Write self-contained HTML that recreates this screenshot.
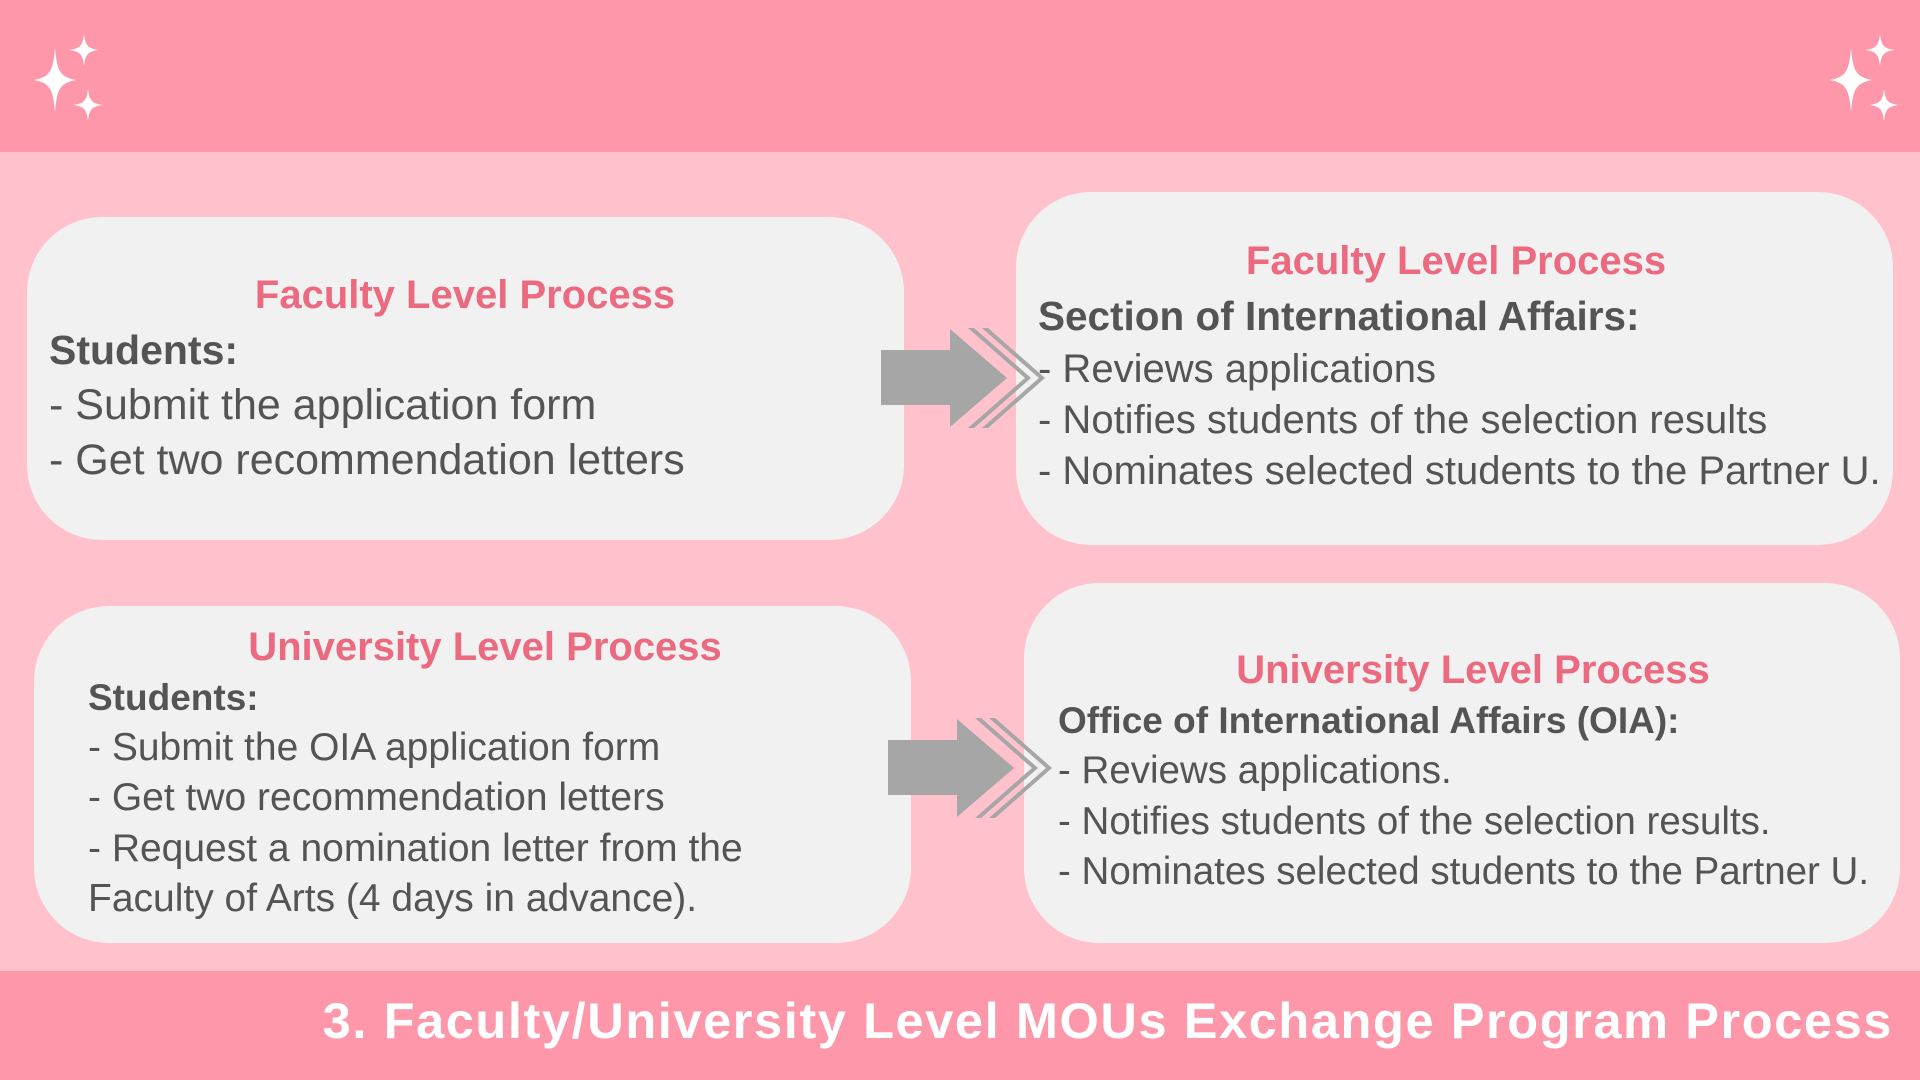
<!DOCTYPE html><html><head><style>
body{margin:0;width:1920px;height:1080px;background:#ffc1cc;position:relative;overflow:hidden;font-family:"Liberation Sans",sans-serif;color:#545454}
.hb{position:absolute;left:0;width:1920px;background:#ff97ab}
.box{position:absolute;background:#f1f1f1;border-radius:75px}
.l{position:absolute;white-space:nowrap;height:0;line-height:0}
.t{color:#ec6a80;font-weight:bold;transform:translateX(-50%)}
.b{font-weight:bold}
</style></head><body>
<div class="hb" style="top:0;height:152px"></div>
<div class="hb" style="top:971px;height:109px"></div>
<svg style="position:absolute;left:0;top:0" width="1920" height="152">
<defs><path id="s" d="M0,-1 C0.1,-0.25 0.25,-0.1 1,0 C0.25,0.1 0.1,0.25 0,1 C-0.1,0.25 -0.25,0.1 -1,0 C-0.25,-0.1 -0.1,-0.25 0,-1Z"/>
<g id="sp"><use href="#s" transform="translate(55,80) scale(21,32)"/>
<use href="#s" transform="translate(84,50) scale(15,16)"/>
<use href="#s" transform="translate(88,105) scale(15,16)"/></g></defs>
<g fill="#fff">
<use href="#sp"/>
<use href="#sp" transform="translate(1796,0)"/>
</g></svg>
<div class="box" style="left:27px;top:217px;width:877px;height:323px"></div>
<div class="box" style="left:1016px;top:192px;width:877px;height:353px"></div>
<div class="box" style="left:34px;top:606px;width:877px;height:337px"></div>
<div class="box" style="left:1024px;top:583px;width:876px;height:360px"></div>
<svg style="position:absolute;left:0;top:0" width="1920" height="1080">
<g id="a" fill="#a6a6a6">
<rect x="881" y="350" width="70" height="55"/>
<polygon points="950,329 1007,378 950,427"/>
<polygon points="968,328 1025,378 968,428 974,428 1031,378 974,328"/>
<polygon points="982,328 1039,378 982,428 988,428 1045,378 988,328"/>
</g>
<use href="#a" transform="translate(7,390)"/>
</svg>
<div style="font-size:43px">
<div class="l t" style="left:465px;top:295px;font-size:40px">Faculty Level Process</div>
<div class="l b" style="left:49px;top:350px;font-size:41px">Students:</div>
<div class="l" style="left:49px;top:405px">- Submit the application form</div>
<div class="l" style="left:49px;top:460px">- Get two recommendation letters</div>
</div>
<div style="font-size:40px">
<div class="l t" style="left:1456px;top:261px;font-size:40px">Faculty Level Process</div>
<div class="l b" style="left:1038px;top:316px;font-size:40.5px">Section of International Affairs:</div>
<div class="l" style="left:1038px;top:369px">- Reviews applications</div>
<div class="l" style="left:1038px;top:420px">- Notifies students of the selection results</div>
<div class="l" style="left:1038px;top:471px">- Nominates selected students to the Partner U.</div>
</div>
<div style="font-size:39px">
<div class="l t" style="left:485px;top:647px;font-size:40px">University Level Process</div>
<div class="l b" style="left:88px;top:698px;font-size:37px">Students:</div>
<div class="l" style="left:88px;top:748px">- Submit the OIA application form</div>
<div class="l" style="left:88px;top:798px">- Get two recommendation letters</div>
<div class="l" style="left:88px;top:849px">- Request a nomination letter from the</div>
<div class="l" style="left:88px;top:899px">Faculty of Arts (4 days in advance).</div>
</div>
<div style="font-size:38.5px">
<div class="l t" style="left:1473px;top:670px;font-size:40px">University Level Process</div>
<div class="l b" style="left:1058px;top:721px;font-size:37px">Office of International Affairs (OIA):</div>
<div class="l" style="left:1058px;top:771px">- Reviews applications.</div>
<div class="l" style="left:1058px;top:822px">- Notifies students of the selection results.</div>
<div class="l" style="left:1058px;top:872px">- Nominates selected students to the Partner U.</div>
</div>
<div class="l b" style="right:27px;top:1021px;font-size:50.5px;color:#fff;letter-spacing:1.6px">3. Faculty/University Level MOUs Exchange Program Process</div>
</body></html>
